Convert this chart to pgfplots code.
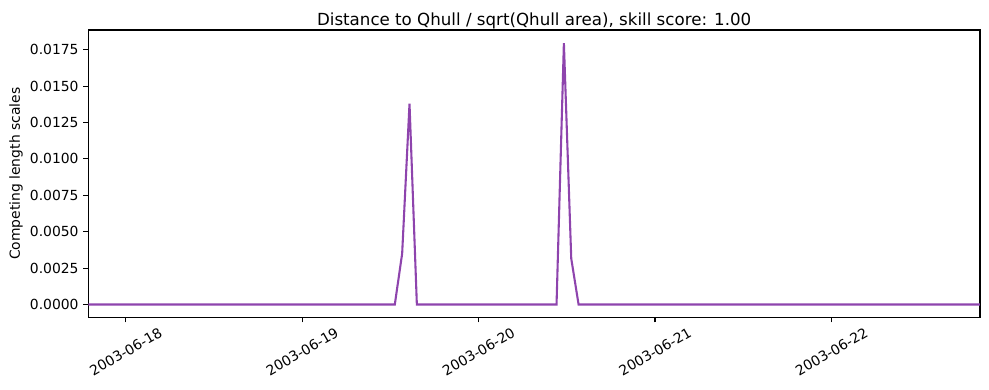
\documentclass[border=0pt]{standalone}
\usepackage{pgfplots}
\pgfplotsset{compat=1.18}
\usepackage{fontspec}
\setmainfont{DejaVu Sans}
\definecolor{series}{HTML}{8E44AD}
\begin{document}
\begin{tikzpicture}
\begin{axis}[
  scale only axis, width=642pt, height=207.1pt,
  xmin=-5.09, xmax=116.2, ymin=-0.0009, ymax=0.01885,
  xtick={0,24,48,72,96},
  xticklabels={2003-06-18,2003-06-19,2003-06-20,2003-06-21,2003-06-22},
  ytick={0,0.0025,0.005,0.0075,0.01,0.0125,0.015,0.0175},
  scaled y ticks=false,
  yticklabel style={/pgf/number format/.cd, fixed, fixed zerofill, precision=4},
  /pgf/number format/assume math mode=true,
  tick align=outside, major tick length=3.5pt,
  xtick pos=left, ytick pos=left,
  tick style={black, line width=0.8pt},
  axis line style={line width=0.8pt},
  ticklabel style={font=\fontsize{10}{12}\selectfont},
  xticklabel style={rotate=30, anchor=center, xshift=-10.5pt, yshift=-18.2pt},
  ylabel={Competing length scales},
  ylabel style={at={([xshift=-52pt]axis description cs:0,0.5)}, anchor=center, font=\fontsize{10}{12}\selectfont},
  title={Distance to Qhull / sqrt(Qhull area), skill score: 1.00},
  title style={at={([yshift=-2.7pt]axis description cs:0.5,1)}, anchor=base, inner sep=0pt, font=\fontsize{12}{14}\selectfont},
]
\addplot[series, line width=1.5pt, mark=none] coordinates {
  (-5.09,0) (36.6,0) (37.6,0.0035) (38.6,0.01379) (39.6,0)
  (58.6,0) (59.6,0.01795) (60.6,0.00316) (61.6,0) (116.2,0)
};
\end{axis}
\pgfresetboundingbox
\useasboundingbox ([shift={(-63.6pt,-52pt)}]current axis.south west) rectangle ([shift={(6.5pt,21.6pt)}]current axis.north east);
\end{tikzpicture}
\end{document}
